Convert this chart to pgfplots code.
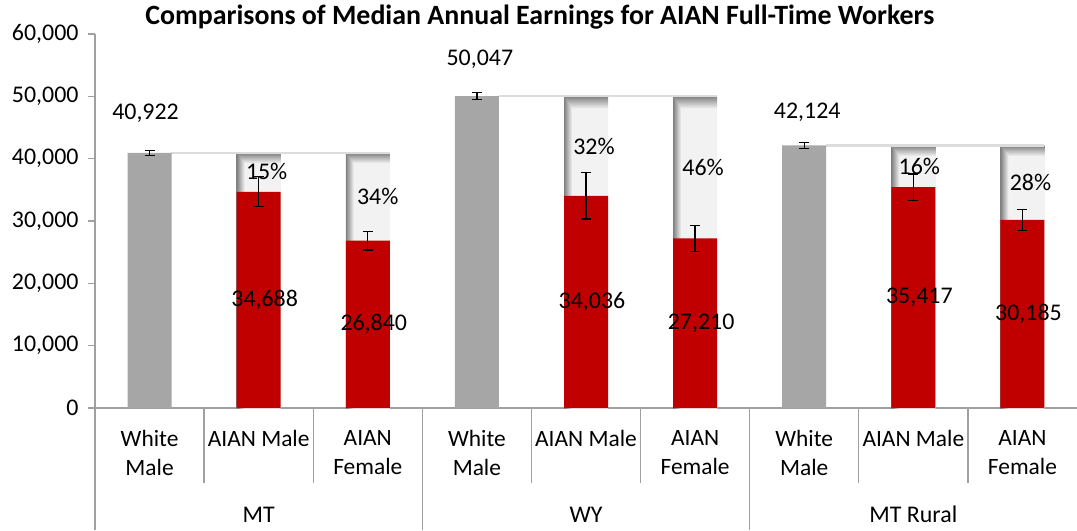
\documentclass[border=0pt]{standalone}
\usepackage{fontspec}
\setmainfont{Carlito}
\usepackage{pgfplots}
\pgfplotsset{compat=1.18}
\pgfplotsset{/pgf/number format/assume math mode=true}

\definecolor{wm}{HTML}{A6A6A6}
\definecolor{aian}{HTML}{C00000}
\definecolor{axisgray}{HTML}{A0A0A0}
\definecolor{conn}{HTML}{DCDCDC}

\pgfdeclarefunctionalshading{gapshade}{\pgfpoint{-50bp}{-50bp}}{\pgfpoint{50bp}{50bp}}{}{
 25 exch sub 2 div exch 25 add 9 div
 2 copy lt {pop} {exch pop} ifelse
 dup 1 gt {pop 1} if dup 0 lt {pop 0} if
 0.45 mul 0.5 add dup dup
}

\begin{document}
\begin{tikzpicture}
\begin{axis}[
  at={(0,0)}, anchor=south west,
  scale only axis, width=982bp, height=374bp,
  xmin=-0.5, xmax=8.5, ymin=0, ymax=60000,
  clip=false,
  axis x line*=bottom, axis y line*=left,
  axis line style={-, axisgray, line width=1.3bp},
  every outer x axis line/.append style={-},
  every outer y axis line/.append style={-},
  ytick={0,10000,20000,30000,40000,50000,60000},
  scaled y ticks=false,
  yticklabel style={font=\fontsize{24}{28}\selectfont, xshift=-6bp,
    /pgf/number format/.cd, fixed, 1000 sep={,}},
  xtick={0,1,2,3,4,5,6,7,8},
  xticklabels={{White\\Male},{AIAN Male},{AIAN\\Female},{White\\Male},{AIAN Male},{AIAN\\Female},{White\\Male},{AIAN Male},{AIAN\\Female}},
  xticklabel style={align=center, font=\fontsize{23.5}{29}\selectfont, yshift=-12bp},
  x tick style={draw=none},
  y tick style={axisgray, line width=1.3bp},
  tick align=outside, major tick length=7bp,
  mybar/.style={ybar, bar width=44bp, bar shift=0pt, draw=none},
  myerr/.style={error bars/.cd, y dir=both, y explicit,
     error bar style={black, line width=1.3bp},
     error mark options={rotate=90, mark size=5bp, black, line width=1.3bp}},
]
% gap bars (shaded), full height to the White Male value
\addplot[mybar, shading=gapshade] coordinates {(1,40922)};
\addplot[mybar, shading=gapshade] coordinates {(2,40922)};
\addplot[mybar, shading=gapshade] coordinates {(4,50047)};
\addplot[mybar, shading=gapshade] coordinates {(5,50047)};
\addplot[mybar, shading=gapshade] coordinates {(7,42124)};
\addplot[mybar, shading=gapshade] coordinates {(8,42124)};
% connector lines
\addplot[conn, line width=2.2bp, sharp plot, no marks] coordinates {(0.2,40922) (2.2,40922)};
\addplot[conn, line width=2.2bp, sharp plot, no marks] coordinates {(3.2,50047) (5.2,50047)};
\addplot[conn, line width=2.2bp, sharp plot, no marks] coordinates {(6.2,42124) (8.2,42124)};
% AIAN bars
\addplot[mybar, fill=aian, myerr] coordinates {
  (1,34688) +- (0,2400)
  (2,26840) +- (0,1500)
  (4,34036) +- (0,3700)
  (5,27210) +- (0,2100)
  (7,35417) +- (0,2100)
  (8,30185) +- (0,1700)
};
% White Male bars
\addplot[mybar, fill=wm, myerr] coordinates {
  (0,40922) +- (0,430)
  (3,50047) +- (0,560)
  (6,42124) +- (0,500)
};

% value labels
\begin{scope}[every node/.style={font=\fontsize{24}{28}\selectfont, inner sep=0pt}]
\node[xshift=-4bp] at (axis cs:0,47330) {40,922};
\node[xshift=3bp] at (axis cs:3,55990) {50,047};
\node[xshift=3bp] at (axis cs:6,47440) {42,124};
\node[xshift=6bp] at (axis cs:1,17344) {34,688};
\node[xshift=6bp] at (axis cs:2,13420) {26,840};
\node[xshift=6bp] at (axis cs:4,17018) {34,036};
\node[xshift=6bp] at (axis cs:5,13605) {27,210};
\node[xshift=6bp] at (axis cs:7,17709) {35,417};
\node[xshift=6bp] at (axis cs:8,15093) {30,185};
\node[xshift=8bp] at (axis cs:1,38000) {15\%};
\node[xshift=10bp] at (axis cs:2,33881) {34\%};
\node[xshift=8bp] at (axis cs:4,42041) {32\%};
\node[xshift=8bp] at (axis cs:5,38628) {46\%};
\node[xshift=6bp] at (axis cs:7,38700) {16\%};
\node[xshift=8bp] at (axis cs:8,36154) {28\%};
% group labels
\node[anchor=base, yshift=-114bp] at (axis cs:1,0) {MT};
\node[anchor=base, yshift=-114bp] at (axis cs:4,0) {WY};
\node[anchor=base, yshift=-114bp] at (axis cs:7,0) {MT Rural};
\end{scope}

% dividers
\pgfplotsinvokeforeach{-0.5,2.5,5.5}{
  \draw[axisgray, line width=1.3bp] (axis cs:#1,0) -- ([yshift=-122bp]axis cs:#1,0);
}
\pgfplotsinvokeforeach{0.5,1.5,3.5,4.5,6.5,7.5}{
  \draw[axisgray, line width=1.3bp] (axis cs:#1,0) -- ([yshift=-75bp]axis cs:#1,0);
}
% title
\node[anchor=base, font=\fontsize{28}{33}\selectfont\bfseries, inner sep=0pt]
  at (axis description cs:0.453,1) [yshift=10bp]
  {Comparisons of Median Annual Earnings for AIAN Full-Time Workers};
\end{axis}
\pgfresetboundingbox
\path (-95bp,-123bp) rectangle (982bp,408bp);
\end{tikzpicture}
\end{document}
